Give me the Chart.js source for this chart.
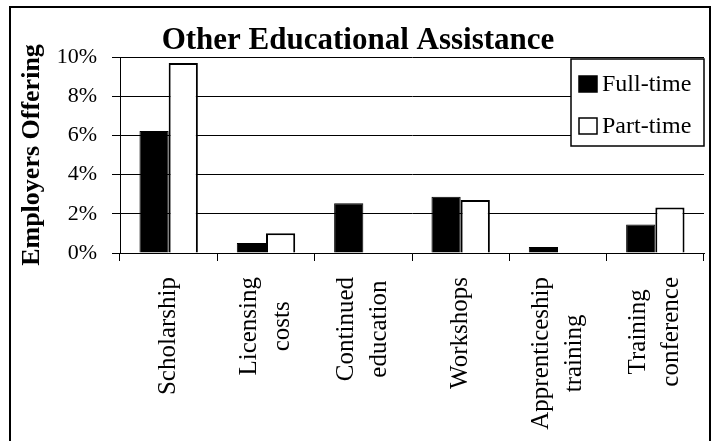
<!DOCTYPE html>
<html><head><meta charset="utf-8">
<script src="https://cdn.jsdelivr.net/npm/chart.js@4"></script>
<style>
html,body{margin:0;padding:0;background:#fff;}
#wrap{position:relative;width:713px;height:441px;overflow:hidden;background:#fff;}
#frame{position:absolute;left:9px;top:6px;width:702px;height:600px;border:2px solid #000;box-sizing:border-box;pointer-events:none;}
canvas{position:absolute;left:0;top:0;}
</style></head><body>
<div id="wrap"><canvas id="c" width="713" height="441"></canvas><div id="frame"></div></div>
<script>
const categories = [["Scholarship"],["Licensing","costs"],["Continued","education"],["Workshops"],["Apprenticeship","training"],["Training","conference"]];
const fullTime = [6.23, 0.51, 2.54, 2.87, 0.31, 1.45];
const partTime = [9.69, 1.01, 0, 2.71, 0, 2.32];
const yTicks = [0, 2, 4, 6, 8, 10];
const seriesNames = ["Full-time", "Part-time"];
const chartTitle = "Other Educational Assistance";
const yTitle = "Employers Offering";

const SERIF = '"Liberation Serif", "Times New Roman", serif';

const xLabelPlugin = {
  id: 'xLabels',
  afterDraw(chart) {
    const sc = chart.scales.x, ctx = chart.ctx;
    ctx.save();
    ctx.font = '25px ' + SERIF;
    ctx.fillStyle = '#000';
    ctx.textAlign = 'center';
    ctx.textBaseline = 'middle';
    sc.ticks.forEach((t, i) => {
      const lines = [].concat(chart.data.labels[i]);
      const maxW = Math.max(...lines.map(l => ctx.measureText(l).width));
      const x = sc.getPixelForTick(i);
      const y = sc.top + 24 + maxW / 2;
      ctx.save();
      ctx.translate(x, y);
      ctx.rotate(-Math.PI / 2);
      lines.forEach((l, j) => ctx.fillText(l, 0, (j - (lines.length - 1) / 2) * 33));
      ctx.restore();
    });
    ctx.restore();
  }
};

const legendPlugin = {
  id: 'boxLegend',
  afterDraw(chart) {
    const ca = chart.chartArea, ctx = chart.ctx;
    const w = 133, h = 87;
    const x0 = ca.right - w, y0 = ca.top + 2;
    ctx.save();
    ctx.fillStyle = '#fff';
    ctx.fillRect(x0, y0, w, h);
    ctx.strokeStyle = '#000';
    ctx.lineWidth = 1.5;
    ctx.strokeRect(x0, y0, w, h);
    ctx.font = '24px ' + SERIF;
    ctx.textBaseline = 'middle';
    ctx.textAlign = 'left';
    chart.data.datasets.forEach((ds, i) => {
      const cy = y0 + 25 + i * 42;
      ctx.fillStyle = ds.backgroundColor;
      ctx.fillRect(x0 + 8, cy - 8, 18, 16);
      ctx.strokeStyle = '#000';
      ctx.lineWidth = 1.5;
      ctx.strokeRect(x0 + 8, cy - 8, 18, 16);
      ctx.fillStyle = '#000';
      ctx.fillText(ds.label, x0 + 31, cy + 1);
    });
    ctx.restore();
  }
};

new Chart(document.getElementById('c'), {
  type: 'bar',
  data: {
    labels: categories,
    datasets: [
      { label: seriesNames[0], data: fullTime, backgroundColor: '#000', borderColor: '#000', borderWidth: 1 },
      { label: seriesNames[1], data: partTime, backgroundColor: '#fff', borderColor: '#000', borderWidth: 2 }
    ]
  },
  options: {
    responsive: false,
    animation: false,
    devicePixelRatio: 1,
    layout: { padding: { left: 12, right: 9, top: 0, bottom: 0 } },
    datasets: { bar: { categoryPercentage: 0.6, barPercentage: 1.0 } },
    plugins: {
      legend: { display: false },
      tooltip: { enabled: false },
      title: {
        display: true, text: chartTitle, color: '#000',
        font: { family: SERIF, size: 31, weight: 'bold', lineHeight: 1 },
        padding: { top: 25, bottom: 1 }
      }
    },
    scales: {
      x: {
        grid: { display: true, drawOnChartArea: false, drawTicks: true, tickLength: 8, color: '#000', offset: true },
        border: { color: '#000', width: 1 },
        ticks: { color: 'rgba(0,0,0,0)', maxRotation: 90, minRotation: 90, autoSkip: false, font: { family: SERIF, size: 25 } },
        afterFit(s) { s.height = 188; s.paddingLeft = 0; s.paddingRight = 0; }
      },
      y: {
        min: 0, max: 10,
        afterBuildTicks(s) { s.ticks = yTicks.map(v => ({ value: v })); },
        ticks: { color: '#000', padding: 15, font: { family: SERIF, size: 22 }, callback: v => v + '%' },
        grid: { color: '#000', tickLength: 8, lineWidth: 1 },
        border: { color: '#000', width: 1 },
        title: { display: true, text: yTitle, color: '#000', font: { family: SERIF, size: 26, weight: 'bold' }, padding: { top: 5, bottom: 0 } },
        afterFit(s) { s.width = 108; s.paddingTop = 0; s.paddingBottom = 0; }
      }
    }
  },
  plugins: [xLabelPlugin, legendPlugin]
});
</script>
</body></html>
